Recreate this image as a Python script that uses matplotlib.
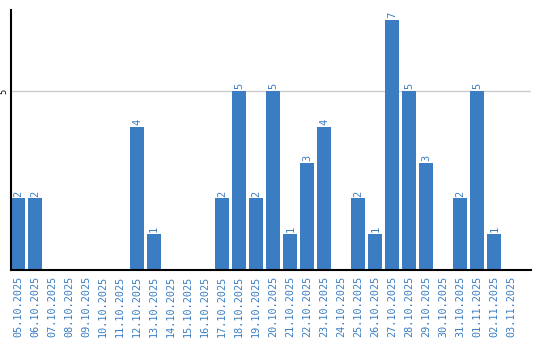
import numpy as np
import matplotlib
matplotlib.use("Agg")
import matplotlib.pyplot as plt

dates = ["05.10.2025", "06.10.2025", "07.10.2025", "08.10.2025", "09.10.2025",
         "10.10.2025", "11.10.2025", "12.10.2025", "13.10.2025", "14.10.2025",
         "15.10.2025", "16.10.2025", "17.10.2025", "18.10.2025", "19.10.2025",
         "20.10.2025", "21.10.2025", "22.10.2025", "23.10.2025", "24.10.2025",
         "25.10.2025", "26.10.2025", "27.10.2025", "28.10.2025", "29.10.2025",
         "30.10.2025", "31.10.2025", "01.11.2025", "02.11.2025", "03.11.2025"]
counts = [2, 2, 0, 0, 0, 0, 0, 4, 1, 0, 0, 0, 2, 5, 2,
          5, 1, 3, 4, 0, 2, 1, 7, 5, 3, 0, 2, 5, 1, 0]

blue = "#3a7dc2"

fig = plt.figure(figsize=(5.4, 3.4), dpi=100)
ax = fig.add_axes([11/540, 70/340, 520/540, 260/340])

x = np.arange(len(dates))
ax.bar(x, counts, width=0.82, color=blue, zorder=2)

# value labels above non-empty bars
for xi, c in zip(x, counts):
    if c > 0:
        ax.text(xi, c + 0.05, str(c), rotation=90, ha="center", va="bottom",
                fontsize=7.5, color=blue, family="DejaVu Sans Mono")

ax.set_xlim(-0.41, 30.15)
ax.set_ylim(0, 7.27)
ax.set_yticks([5])
ax.yaxis.grid(True, color="#cccccc", linewidth=1, zorder=0)
ax.set_xticks(x)
ax.set_xticklabels(dates, rotation=90, fontsize=7.3, color=blue,
                   family="DejaVu Sans Mono")
ax.tick_params(axis="x", length=0, pad=4)
ax.tick_params(axis="y", length=0, pad=2, labelsize=6)
for lab in ax.get_yticklabels():
    lab.set_rotation(90)
    lab.set_va("center")

ax.spines["top"].set_visible(False)
ax.spines["right"].set_visible(False)
ax.spines["left"].set_linewidth(1.5)
ax.spines["bottom"].set_linewidth(1.5)

fig.savefig("out.png", dpi=100)
